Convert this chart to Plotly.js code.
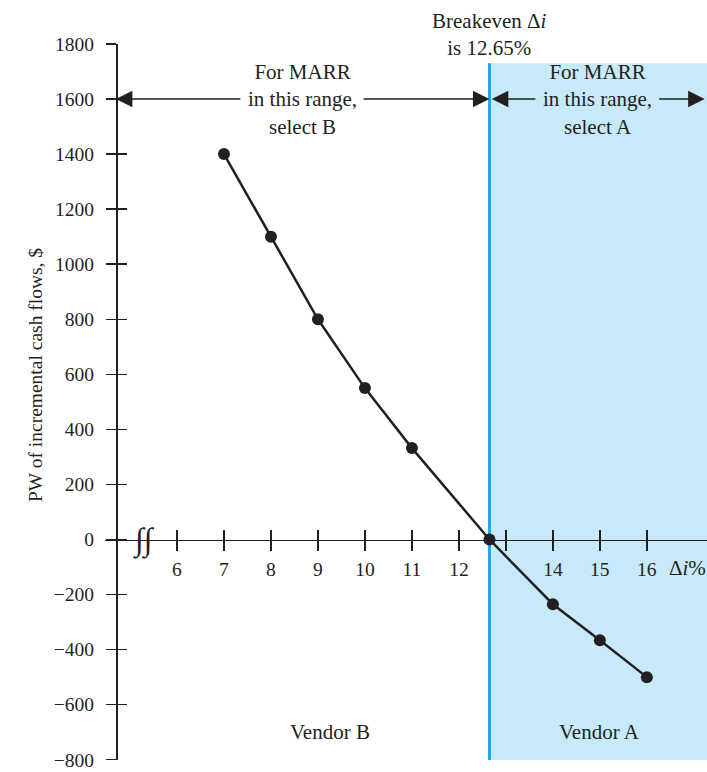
<!DOCTYPE html>
<html>
<head>
<meta charset="utf-8">
<script src="https://cdn.plot.ly/plotly-3.0.1.min.js"></script>
<style>html,body{margin:0;padding:0;background:#fff;}</style>
</head>
<body>
<div id="chart" style="width:707px;height:772px;"></div>
<script>
// Data
var rates = [7, 8, 9, 10, 11, 12.65, 14, 15, 16];
var pwIncremental = [1400, 1100, 800, 550, 332, 0, -235, -366, -500];
var breakeven = 12.65;
var xTickVals = [6, 7, 8, 9, 10, 11, 12, 13, 14, 15, 16];
var xTickText = ['6', '7', '8', '9', '10', '11', '12', '', '14', '15', '16'];
var yTickVals = [-800, -600, -400, -200, 0, 200, 400, 600, 800, 1000, 1200, 1400, 1600, 1800];

var INK = '#231f20';
var FONT = 'Liberation Serif, Times New Roman, serif';
var xRange = [4.468, 17.28];
var yRange = [-801, 1800];
var xAxisPos = (0 - yRange[0]) / (yRange[1] - yRange[0]);
var yAxisPos = 0.0183;

var traces = [
  {
    x: rates, y: pwIncremental, type: 'scatter', mode: 'lines+markers',
    line: {color: INK, width: 2.5},
    marker: {color: INK, size: 12},
    hoverinfo: 'x+y'
  },
  {
    x: rates, y: pwIncremental, xaxis: 'x2', yaxis: 'y2', type: 'scatter', mode: 'lines',
    line: {color: 'rgba(0,0,0,0)', width: 0}, hoverinfo: 'skip', showlegend: false
  }
];

var tickFont = {family: FONT, size: 19.5, color: INK};
var annFont = {family: FONT, size: 21, color: INK};

function arrow(xTail, xTip, yv) {
  return {
    x: xTip, y: yv, ax: xTail, ay: yv, xref: 'x', yref: 'y', axref: 'x', ayref: 'y',
    text: '', showarrow: true, arrowhead: 2, arrowsize: 2.2, arrowwidth: 1.5,
    arrowcolor: INK, standoff: 0
  };
}

var layout = {
  width: 707, height: 772,
  margin: {l: 105, r: 0, t: 44, b: 12},
  paper_bgcolor: '#ffffff', plot_bgcolor: '#ffffff',
  showlegend: false,
  font: {family: FONT, color: INK},
  xaxis: {
    range: xRange, tickmode: 'array', tickvals: xTickVals, ticktext: xTickText,
    ticks: 'outside', ticklen: 10, tickwidth: 1.5, tickcolor: INK,
    showline: true, linecolor: INK, linewidth: 1.5,
    anchor: 'free', position: xAxisPos, showgrid: false, zeroline: false,
    ticklabelstandoff: 2, tickfont: tickFont, fixedrange: true
  },
  xaxis2: {
    range: xRange, overlaying: 'x', anchor: 'free', position: xAxisPos, side: 'bottom',
    tickmode: 'array', tickvals: xTickVals, ticks: 'inside', ticklen: 10, tickwidth: 1.5, tickcolor: INK,
    showticklabels: false, showline: false, showgrid: false, zeroline: false
  },
  yaxis: {
    range: yRange, tickmode: 'array', tickvals: yTickVals,
    ticks: 'outside', ticklen: 10, tickwidth: 1.5, tickcolor: INK,
    showline: true, linecolor: INK, linewidth: 1.5,
    anchor: 'free', position: yAxisPos, showgrid: false, zeroline: false,
    ticklabelstandoff: 8, ticklabeloverflow: 'allow', tickfont: tickFont, fixedrange: true
  },
  yaxis2: {
    range: yRange, overlaying: 'y', anchor: 'free', position: yAxisPos, side: 'left',
    tickmode: 'array', tickvals: yTickVals, ticks: 'inside', ticklen: 10, tickwidth: 1.5, tickcolor: INK,
    showticklabels: false, showline: false, showgrid: false, zeroline: false
  },
  shapes: [
    {type: 'rect', xref: 'x', yref: 'y', x0: breakeven, x1: xRange[1], y0: yRange[0], y1: 1730,
     fillcolor: '#c7e9f9', line: {width: 0}, layer: 'below'},
    {type: 'line', xref: 'x', yref: 'y', x0: breakeven, x1: breakeven, y0: yRange[0], y1: 1730,
     line: {color: '#17aeea', width: 3}, layer: 'below'}
  ],
  annotations: [
    {xref: 'x', yref: 'paper', x: breakeven, y: 1.0139, yanchor: 'middle', showarrow: false,
     text: 'Breakeven Δ<i>i</i><br>is 12.65%', font: annFont},
    {xref: 'x', yref: 'y', x: 8.68, y: 1600, showarrow: false,
     text: 'For MARR<br>in this range,<br>select B', font: annFont},
    {xref: 'x', yref: 'y', x: 14.96, y: 1600, showarrow: false,
     text: 'For MARR<br>in this range,<br>select A', font: annFont},
    {xref: 'x', yref: 'y', x: 9.26, y: -699, showarrow: false, text: 'Vendor B', font: annFont},
    {xref: 'x', yref: 'y', x: 15.0, y: -699, showarrow: false, text: 'Vendor A', font: annFont},
    {xref: 'x', yref: 'y', x: 16.86, y: -102, showarrow: false, text: 'Δ<i>i</i>%', font: annFont},
    {xref: 'x', yref: 'y', x: 5.30, y: 0, showarrow: false, text: '∫∫',
     font: {family: FONT, size: 32, color: INK}},
    {xref: 'paper', yref: 'y', x: -0.136, y: 596, showarrow: false, textangle: -90,
     text: 'PW of incremental cash flows, $', font: {family: FONT, size: 19.5, color: INK}},
    arrow(7.38, 4.70, 1600),
    arrow(9.94, breakeven, 1600),
    arrow(13.66, 12.70, 1600),
    arrow(16.23, 17.23, 1600)
  ]
};

Plotly.newPlot('chart', traces, layout, {displayModeBar: false, staticPlot: true});
</script>
</body>
</html>
